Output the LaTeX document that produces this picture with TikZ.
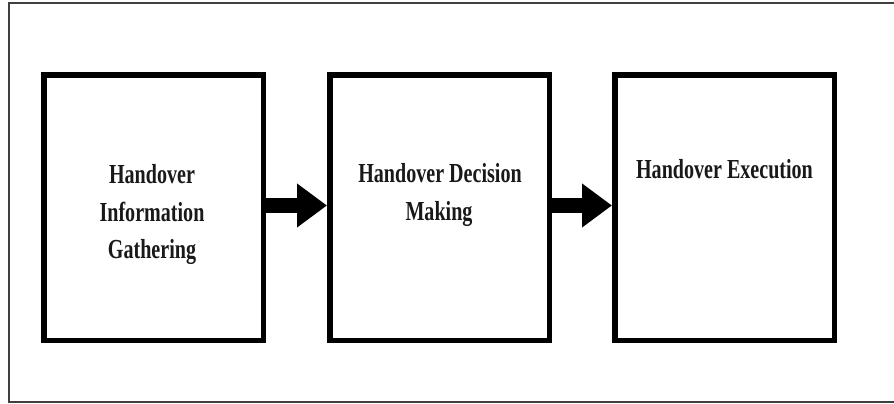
\documentclass[tikz,border=0pt]{standalone}
\usepackage{fontspec}
\usetikzlibrary{arrows.meta}
\newfontfamily\boxfont{Liberation Serif}[FakeStretch=0.73]
\begin{document}
\begin{tikzpicture}[x=1pt,y=-1pt,
  stagebox/.style={draw=black,line width=5.5pt,rectangle,minimum width=219.5pt,minimum height=265.5pt,inner sep=0pt},
  stagetext/.style={anchor=base,inner sep=0pt,font=\boxfont\bfseries\fontsize{27.5pt}{29pt}\selectfont,text=black!90},
  flowarrow/.style={line width=15pt,-{Triangle[length=30pt,width=42pt]}}]
\useasboundingbox (0,0) rectangle (894,404);
\draw[line width=1.5pt,black!75] (894,3) -- (9,3) -- (9,402) -- (894,402);
\node[stagebox] (b1) at (153.5,207.5) {};
\node[stagebox] (b2) at (439.5,207.5) {};
\node[stagebox] (b3) at (724.5,207.5) {};
\node[stagetext] (t1a) at (152,183) {Handover};
\node[stagetext] (t1b) at (152,221) {Information};
\node[stagetext] (t1c) at (152,258) {Gathering};
\node[stagetext] (t2a) at (440,182) {Handover Decision};
\node[stagetext] (t2b) at (439,220.5) {Making};
\node[stagetext] (t3a) at (724.5,178.5) {Handover Execution};
\draw[flowarrow] ([yshift=2pt]b1.east) -- ([yshift=2pt]b2.west);
\draw[flowarrow] ([yshift=2pt]b2.east) -- ([yshift=2pt]b3.west);
\end{tikzpicture}
\end{document}
